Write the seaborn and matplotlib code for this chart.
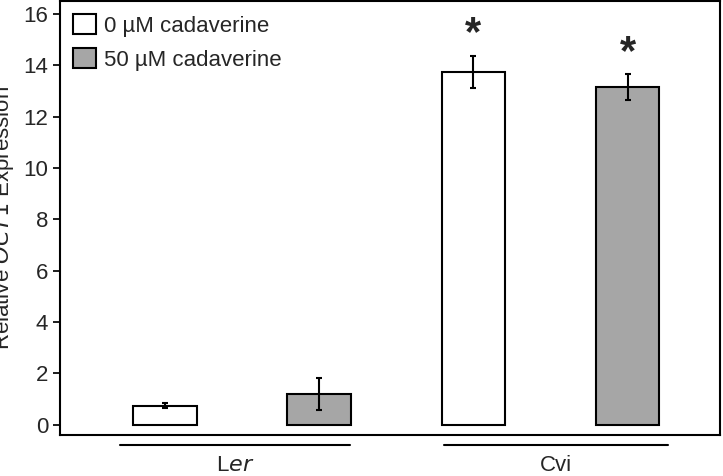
import matplotlib.pyplot as plt
import matplotlib.transforms as mtransforms
import seaborn as sns
import pandas as pd

sns.set_theme(style="white")
plt.rcParams['font.family'] = ['Liberation Sans', 'DejaVu Sans']

groups = ["Ler", "Ler", "Cvi", "Cvi"]
conditions = ["0 µM cadaverine", "50 µM cadaverine", "0 µM cadaverine", "50 µM cadaverine"]
slots = ["a", "b", "c", "d"]
values = [0.75, 1.2, 13.75, 13.15]
errors = [0.1, 0.62, 0.62, 0.5]
stars = [False, False, True, True]

df = pd.DataFrame({"slot": slots, "value": values, "condition": conditions, "group": groups})

fig = plt.figure(figsize=(7.23, 4.76), dpi=100)
ax = fig.add_axes([0.083, 0.086, 0.913, 0.912])
sns.barplot(data=df, x="slot", y="value", hue="condition", dodge=False, width=0.41,
            palette={"0 µM cadaverine": "white", "50 µM cadaverine": "#a6a6a6"},
            edgecolor="black", linewidth=1.5, ax=ax)
ax.errorbar(range(len(values)), values, yerr=errors, fmt="none", ecolor="black",
            elinewidth=1.5, capsize=2.5, capthick=1.5)
for i, (v, e, s) in enumerate(zip(values, errors, stars)):
    if s:
        ax.text(i, v + e + 0.05, "*", ha="center", va="bottom", fontsize=30, fontweight="bold")

ax.set_xlim(-0.68, 3.6)
ax.set_ylim(-0.4, 16.5)
ax.set_yticks(range(0, 17, 2))
ax.tick_params(axis="y", labelsize=16, left=True, length=5, color="black")
ax.set_xticks([])
ax.set_xlabel("")
ax.set_ylabel("Relative $\\it{OCT1}$ Expression", fontsize=16)
ax.yaxis.set_label_coords(-0.067, 0.5)
for sp in ax.spines.values():
    sp.set_color("black")
    sp.set_linewidth(1.5)

trans = mtransforms.blended_transform_factory(ax.transData, ax.transAxes)
for x0, x1, lab in [(-0.29, 1.2, "L$\\it{er}$"), (1.81, 3.26, "Cvi")]:
    ax.plot([x0, x1], [-0.023, -0.023], color="black", lw=1.5, transform=trans, clip_on=False)
    ax.text((x0 + x1) / 2, -0.045, lab, ha="center", va="top", fontsize=16, transform=trans)

leg = ax.legend(loc="upper left", frameon=False, fontsize=16, handlelength=1.0,
                handleheight=1.0, borderaxespad=0.2, labelspacing=0.5, handletextpad=0.4)
fig.savefig("out.png", dpi=100)
